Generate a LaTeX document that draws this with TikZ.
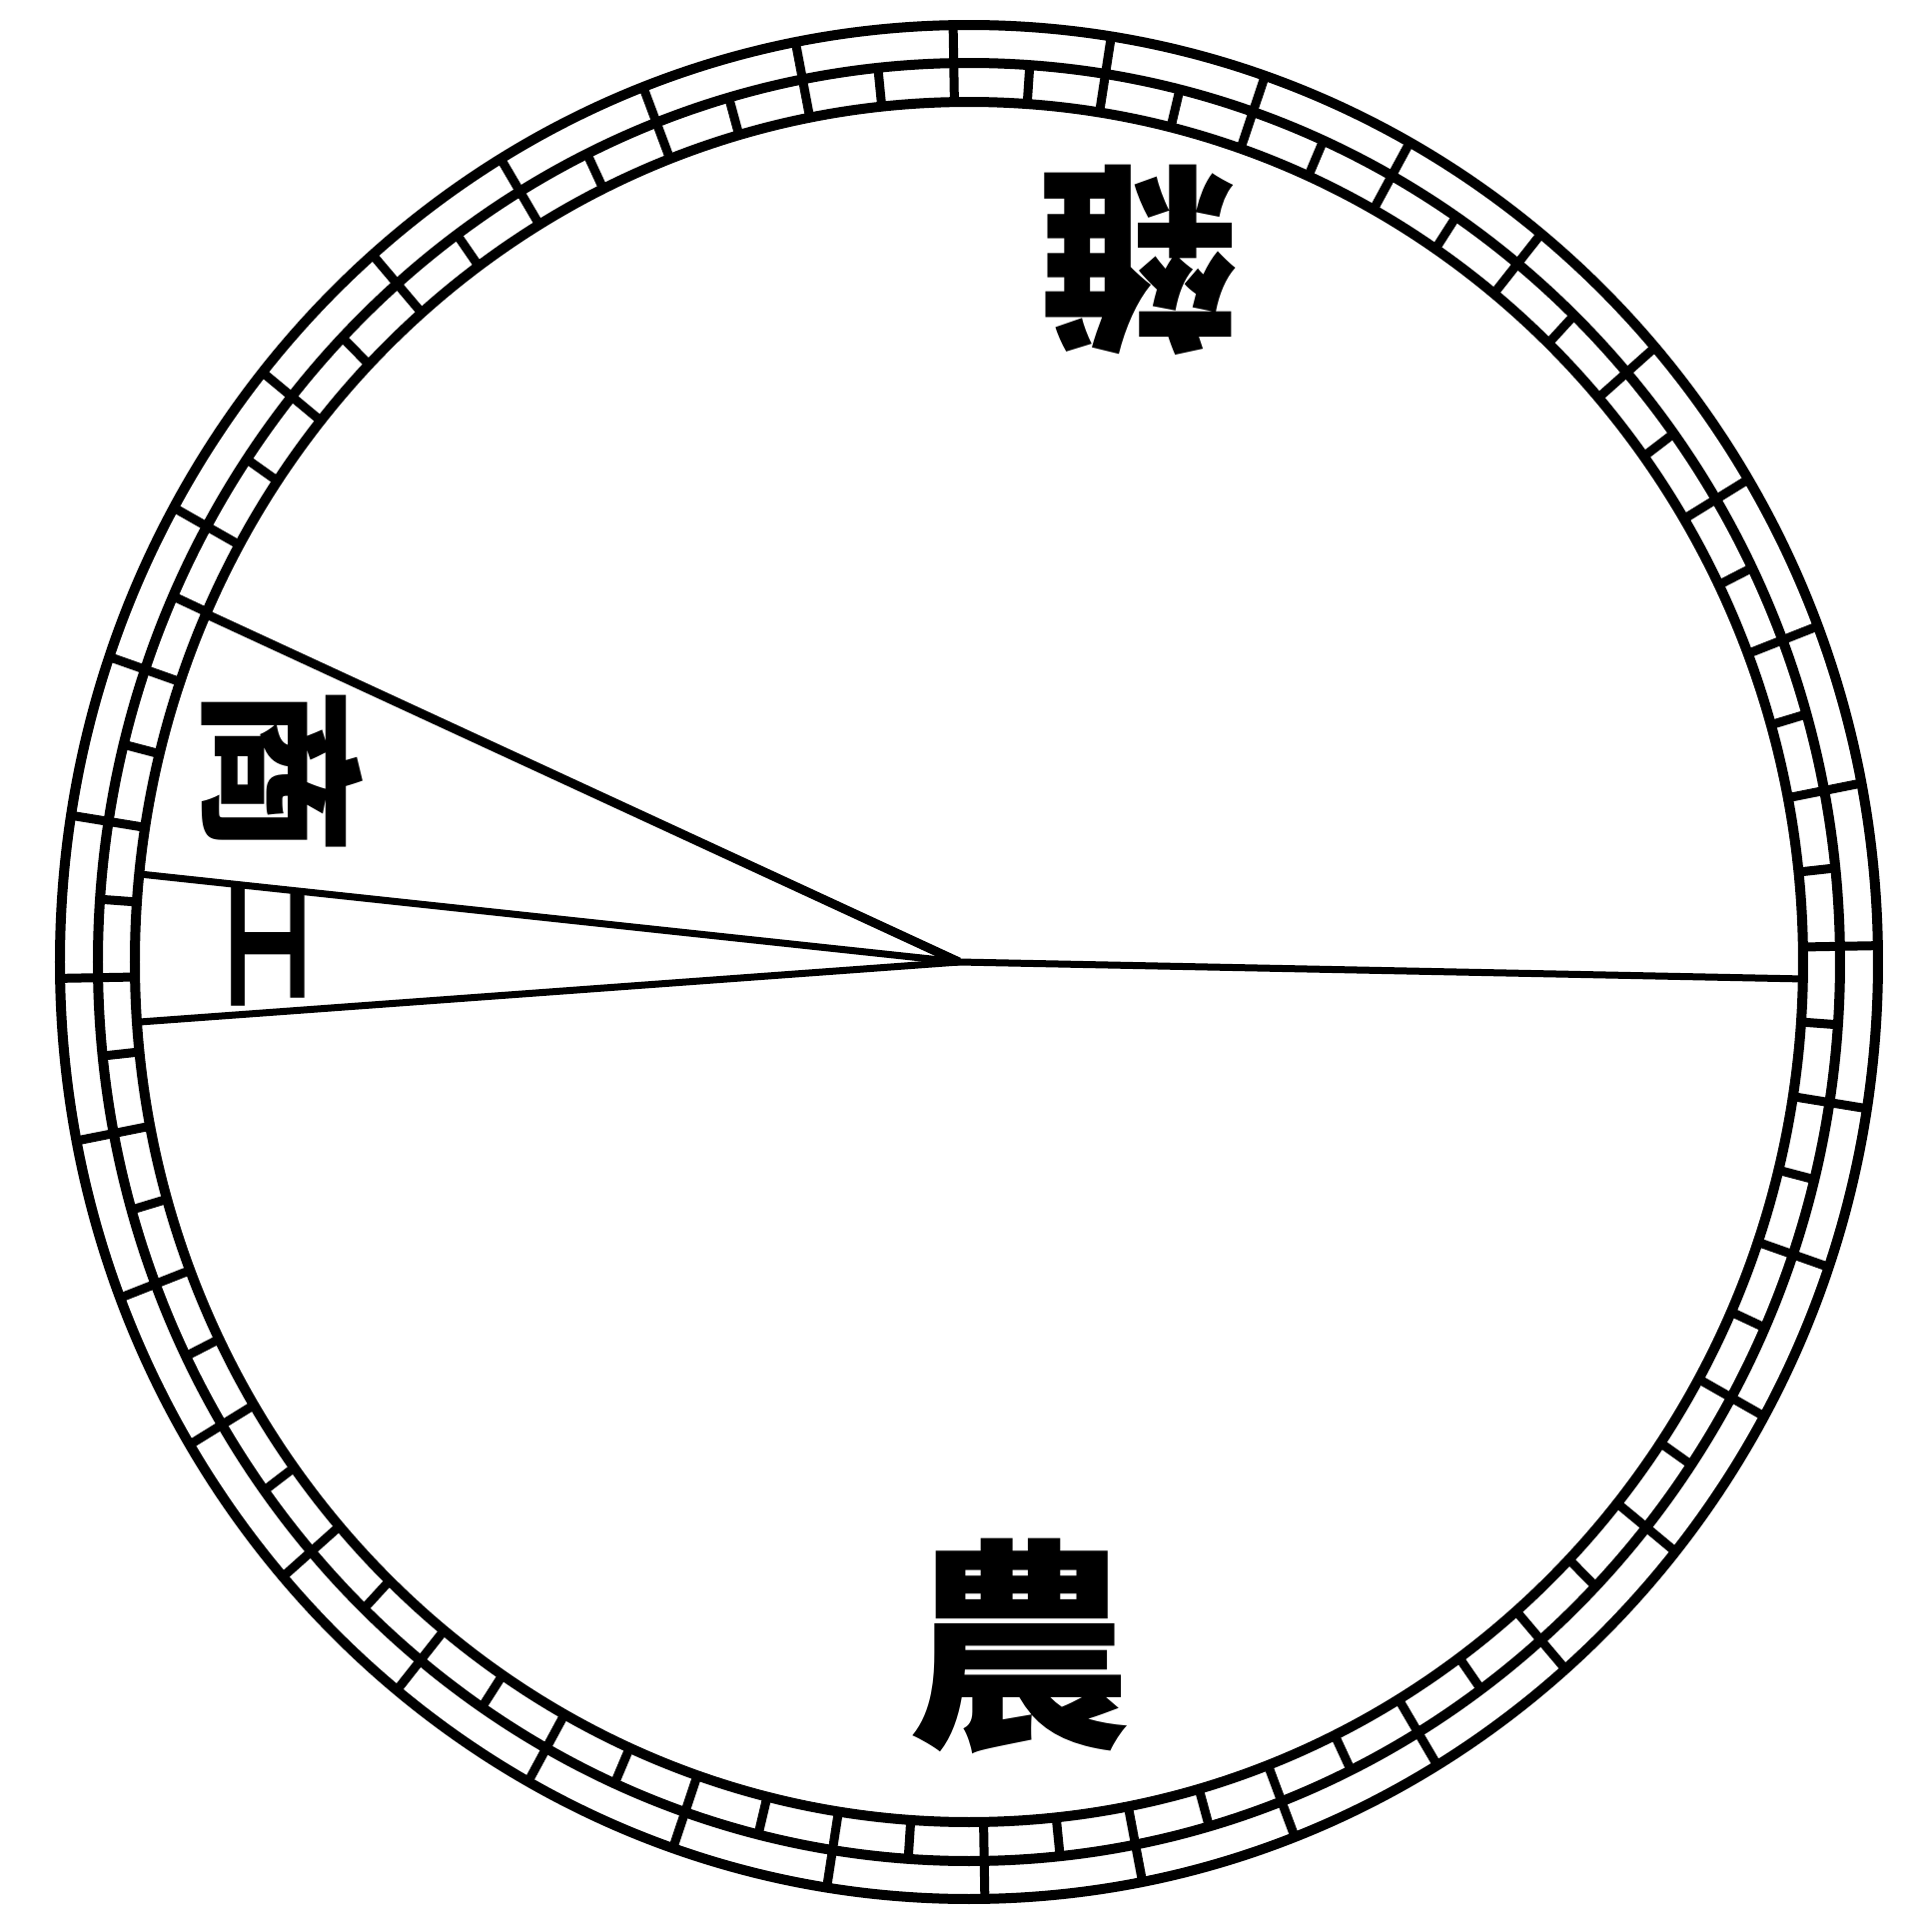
\documentclass[tikz,border=0pt]{standalone}
\usepackage{fontspec}
\newfontfamily\cjk{Noto Sans CJK TC}
\usetikzlibrary{calc}
\tikzset{
  ring/.style={draw=black,line width=1mm},
  divider/.style={draw=black,line width=0.9mm},
  spoke/.style={draw=black,line width=0.7mm},
  sector/.style={inner sep=0pt,text=black}
}

\begin{document}
\begin{tikzpicture}[x=0.1mm,y=0.1mm]
  \useasboundingbox (-970,-971) rectangle (963,963);
  % border rings
  \draw[ring] (0,0) ellipse [x radius=91mm, y radius=93.8mm];
  \draw[ring] (0,0) ellipse [x radius=87.2mm, y radius=90mm];
  \draw[ring] (0,0) ellipse [x radius=83.5mm, y radius=86.1mm];
  \foreach \a in {1,11,...,351}
    \draw[divider] ({835*cos(\a)},{861*sin(\a)}) -- ({910*cos(\a)},{938*sin(\a)});
  \foreach \a in {6,16,...,356}
    \draw[divider] ({835*cos(\a)},{861*sin(\a)}) -- ({872*cos(\a)},{900*sin(\a)});

  % sectors
  \coordinate (hub) at (-10,0);
  \coordinate (rimE) at (837,-17);
  \coordinate (rimShang) at (-763,348);
  \coordinate (rimGongA) at (-830,88);
  \coordinate (rimGongB) at (-830,-60);
  \draw[spoke] (hub) -- (rimE);
  \draw[spoke,line width=0.9mm] (hub) -- (rimShang);
  \draw[spoke] (hub) -- (rimGongA);
  \draw[spoke] (hub) -- (rimGongB);

  \node[sector,font=\cjk\bfseries\fontsize{57}{57}\selectfont,rotate=180] (za) at (170,703) {雜};
  \node[sector,font=\cjk\bfseries\fontsize{48}{48}\selectfont,rotate=-90] (shang) at (-687,191) {商};
  \node[sector,font=\cjk\bfseries\fontsize{38}{38}\selectfont,rotate=-90,yscale=0.7] (gong) at (-702,18) {工};
  \node[sector,font=\cjk\bfseries\fontsize{64}{64}\selectfont] (nong) at (50,-685) {農};
\end{tikzpicture}
\end{document}
